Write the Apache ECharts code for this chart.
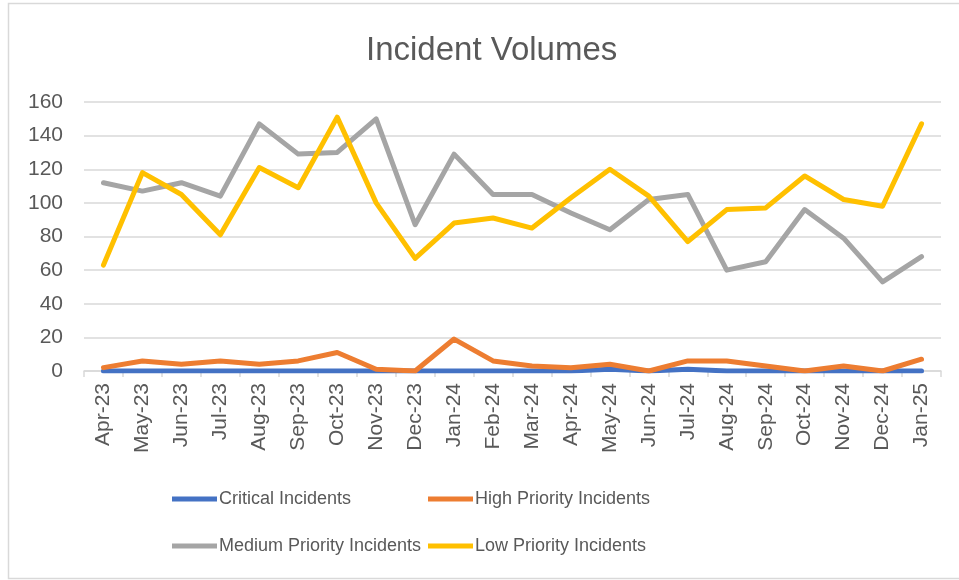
<!DOCTYPE html>
<html>
<head>
<meta charset="utf-8">
<script src="https://cdn.jsdelivr.net/npm/echarts@6/dist/echarts.min.js"></script>
<style>
  html, body { margin: 0; padding: 0; background: #fff; }
  #chart { width: 959px; height: 580px; }
</style>
</head>
<body>
<div id="chart"></div>
<script>
// --- Data ---
const months = ['Apr-23', 'May-23', 'Jun-23', 'Jul-23', 'Aug-23', 'Sep-23', 'Oct-23', 'Nov-23', 'Dec-23',
    'Jan-24', 'Feb-24', 'Mar-24', 'Apr-24', 'May-24', 'Jun-24', 'Jul-24', 'Aug-24', 'Sep-24', 'Oct-24',
    'Nov-24', 'Dec-24', 'Jan-25'];
const critical = [0, 0, 0, 0, 0, 0, 0, 0, 0, 0, 0, 0, 0, 1, 0, 1, 0, 0, 0, 0, 0, 0];
const high     = [2, 6, 4, 6, 4, 6, 11, 1, 0, 19, 6, 3, 2, 4, 0, 6, 6, 3, 0, 3, 0, 7];
const medium   = [112, 107, 112, 104, 147, 129, 130, 150, 87, 129, 105, 105, 94, 84, 102, 105, 60, 65, 96, 79, 53, 68];
const low      = [63, 118, 105, 81, 121, 109, 151, 100, 67, 88, 91, 85, 103, 120, 104, 77, 96, 97, 116, 102, 98, 147];
const yTicks = { min: 0, max: 160, step: 20 };

const seriesDefs = [
    { name: 'Critical Incidents', color: '#4472C4', data: critical },
    { name: 'High Priority Incidents', color: '#ED7D31', data: high },
    { name: 'Medium Priority Incidents', color: '#A5A5A5', data: medium },
    { name: 'Low Priority Incidents', color: '#FFC000', data: low }
];

const FONT = '"Liberation Sans", Arial, sans-serif';
const TEXT = '#595959';
const GRID_LINE = '#d9d9d9';

// --- Legend: 2x2 layout, one component per entry ---
const legendSpots = [
    { left: 172, top: 490 }, { left: 428, top: 490 },
    { left: 172, top: 537 }, { left: 428, top: 537 }
];
const legends = seriesDefs.map((s, i) => ({
    data: [s.name],
    left: legendSpots[i].left,
    top: legendSpots[i].top,
    icon: 'rect',
    itemWidth: 45,
    itemHeight: 5,
    itemGap: 0,
    padding: 0,
    selectedMode: false,
    textStyle: { fontFamily: FONT, fontSize: 18, color: TEXT, padding: [0, 0, 0, -3] }
}));

const chart = echarts.init(document.getElementById('chart'), null, { renderer: 'canvas' });

chart.setOption({
    animation: false,
    backgroundColor: '#fff',
    title: {
        text: 'Incident Volumes',
        left: 361,
        top: 29,
        textStyle: { fontFamily: FONT, fontSize: 33, fontWeight: 'normal', color: TEXT }
    },
    legend: legends,
    grid: { left: 84, right: 18, top: 102, bottom: 209, containLabel: false },
    xAxis: {
        type: 'category',
        data: months,
        boundaryGap: true,
        axisLine: { lineStyle: { color: GRID_LINE, width: 1.5 } },
        axisTick: { show: true, length: 6, interval: 0, lineStyle: { color: GRID_LINE, width: 1.5 } },
        axisLabel: { interval: 0, rotate: 90, margin: 12, fontFamily: FONT, fontSize: 21, color: TEXT }
    },
    yAxis: {
        type: 'value',
        min: yTicks.min,
        max: yTicks.max,
        interval: yTicks.step,
        axisLine: { show: false },
        axisTick: { show: false },
        axisLabel: { margin: 21, fontFamily: FONT, fontSize: 21, color: TEXT },
        splitLine: { lineStyle: { color: GRID_LINE, width: 1.5 } }
    },
    series: seriesDefs.map(s => ({
        name: s.name,
        type: 'line',
        data: s.data,
        showSymbol: false,
        smooth: false,
        color: s.color,
        lineStyle: { width: 5, color: s.color, cap: 'round', join: 'round' },
        itemStyle: { color: s.color }
    })),
    graphic: [{
        type: 'rect',
        shape: { x: 8.5, y: 3.5, width: 960, height: 575 },
        style: { fill: null, stroke: GRID_LINE, lineWidth: 1.5 },
        silent: true,
        z: -10
    }]
});
</script>
</body>
</html>
